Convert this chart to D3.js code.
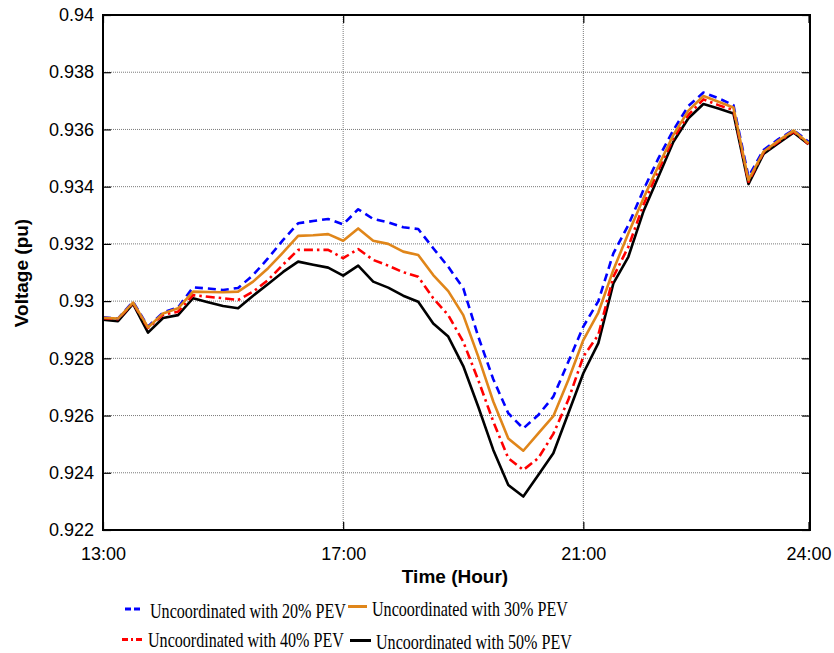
<!DOCTYPE html>
<html>
<head>
<meta charset="utf-8">
<script src="https://cdn.jsdelivr.net/npm/d3@7"></script>
<style>
  html, body { margin: 0; padding: 0; background: #fff; }
  svg { display: block; }
</style>
</head>
<body>
<svg id="chart" width="834" height="653"></svg>
<script>
// ---------------- DATA ----------------
const seriesNames = [
  "Uncoordinated with 20% PEV",
  "Uncoordinated with 30% PEV",
  "Uncoordinated with 40% PEV",
  "Uncoordinated with 50% PEV"
];
const xTickIndex = [0, 16, 32, 47];
const xTickLabels = ["13:00", "17:00", "21:00", "24:00"];
const yTickValues = [0.922, 0.924, 0.926, 0.928, 0.93, 0.932, 0.934, 0.936, 0.938, 0.94];
const yTickLabels = ["0.922", "0.924", "0.926", "0.928", "0.93", "0.932", "0.934", "0.936", "0.938", "0.94"];

const pev20 = [0.92943, 0.92939, 0.92998, 0.92911, 0.92960, 0.92978, 0.93048, 0.93044, 0.93039, 0.93046,
  0.93091, 0.93150, 0.93214, 0.93272, 0.93280, 0.93287, 0.93268, 0.93321, 0.93287, 0.93275,
  0.93258, 0.93252, 0.93185, 0.93120, 0.93045, 0.92876, 0.92727, 0.92608, 0.92555, 0.92602,
  0.92666, 0.92788, 0.92911, 0.93000, 0.93167, 0.93266, 0.93388, 0.93499, 0.93598, 0.93682,
  0.93729, 0.93709, 0.93685, 0.93435, 0.93528, 0.93566, 0.93598, 0.93557];
const pev30 = [0.92942, 0.92939, 0.92995, 0.92908, 0.92957, 0.92975, 0.93033, 0.93032, 0.93031, 0.93033,
  0.93068, 0.93115, 0.93170, 0.93228, 0.93230, 0.93234, 0.93211, 0.93254, 0.93211, 0.93200,
  0.93173, 0.93161, 0.93091, 0.93035, 0.92951, 0.92806, 0.92649, 0.92520, 0.92477, 0.92538,
  0.92598, 0.92724, 0.92864, 0.92960, 0.93109, 0.93237, 0.93359, 0.93472, 0.93581, 0.93666,
  0.93717, 0.93697, 0.93677, 0.93423, 0.93522, 0.93561, 0.93596, 0.93552];
const pev40 = [0.92940, 0.92937, 0.92993, 0.92906, 0.92952, 0.92963, 0.93021, 0.93015, 0.93010, 0.93004,
  0.93033, 0.93074, 0.93128, 0.93179, 0.93179, 0.93179, 0.93150, 0.93182, 0.93144, 0.93124,
  0.93101, 0.93085, 0.93010, 0.92951, 0.92858, 0.92724, 0.92579, 0.92451, 0.92410, 0.92451,
  0.92536, 0.92655, 0.92806, 0.92882, 0.93085, 0.93190, 0.93336, 0.93458, 0.93569, 0.93651,
  0.93705, 0.93685, 0.93668, 0.93417, 0.93519, 0.93557, 0.93592, 0.93549];
const pev50 = [0.92935, 0.92930, 0.92990, 0.92890, 0.92941, 0.92951, 0.93010, 0.92996, 0.92983, 0.92975,
  0.93019, 0.93060, 0.93102, 0.93138, 0.93127, 0.93117, 0.93089, 0.93124, 0.93068, 0.93047,
  0.93019, 0.92998, 0.92922, 0.92876, 0.92773, 0.92631, 0.92480, 0.92357, 0.92317, 0.92392,
  0.92468, 0.92608, 0.92748, 0.92853, 0.93062, 0.93155, 0.93313, 0.93435, 0.93557, 0.93639,
  0.93689, 0.93673, 0.93656, 0.93409, 0.93514, 0.93552, 0.93589, 0.93548];

// ---------------- STYLES ----------------
const styles = [
  { color: "#0000FF", dash: "8,5" },
  { color: "#E0861A", dash: null },
  { color: "#FF0000", dash: "9,4,2.5,4" },
  { color: "#000000", dash: null }
];
const seriesData = [pev20, pev30, pev40, pev50];

// ---------------- LAYOUT ----------------
const svg = d3.select("#chart");
const L = 103, R = 810, T = 15, B = 530;

const x = d3.scaleLinear().domain([0, 47]).range([L, 808.5]);
const y = d3.scaleLinear().domain([0.922, 0.94]).range([B, T]);

svg.append("rect").attr("x", 0).attr("y", 0).attr("width", 834).attr("height", 653).attr("fill", "#fff");

// grid
const grid = svg.append("g");
grid.selectAll("line.h").data(yTickValues.slice(1, -1)).enter().append("line")
  .attr("x1", L).attr("x2", R)
  .attr("y1", d => y(d)).attr("y2", d => y(d))
  .attr("stroke", "#7a7a7a").attr("stroke-width", 1).attr("stroke-dasharray", "1,1");
grid.selectAll("line.v").data(xTickIndex.slice(1, -1)).enter().append("line")
  .attr("y1", T).attr("y2", B)
  .attr("x1", d => x(d)).attr("x2", d => x(d))
  .attr("stroke", "#7a7a7a").attr("stroke-width", 1).attr("stroke-dasharray", "1,1");

// lines
const lineGen = d3.line().x((d, i) => x(i)).y(d => y(d));
const drawOrder = [3, 2, 0, 1];
drawOrder.forEach(k => {
  svg.append("path")
    .datum(seriesData[k])
    .attr("d", lineGen)
    .attr("fill", "none")
    .attr("stroke", styles[k].color)
    .attr("stroke-width", 2.6)
    .attr("stroke-linejoin", "round")
    .attr("stroke-dasharray", styles[k].dash);
});

// axes with inward ticks
const font = "'Liberation Sans', Arial, sans-serif";
const yAxisL = d3.axisLeft(y).tickValues(yTickValues).tickFormat((d, i) => yTickLabels[i]).tickSizeInner(-8).tickSizeOuter(0).tickPadding(14);
const yAxisR = d3.axisRight(y).tickValues(yTickValues).tickFormat("").tickSizeInner(-8).tickSizeOuter(0);
const xAxisB = d3.axisBottom(x).tickValues(xTickIndex).tickFormat((d, i) => xTickLabels[i]).tickSizeInner(-8).tickSizeOuter(0).tickPadding(14);
const xAxisT = d3.axisTop(x).tickValues(xTickIndex).tickFormat("").tickSizeInner(-8).tickSizeOuter(0);

const gL = svg.append("g").attr("transform", `translate(${L},0)`).call(yAxisL);
const gR = svg.append("g").attr("transform", `translate(${R},0)`).call(yAxisR);
const gB = svg.append("g").attr("transform", `translate(0,${B})`).call(xAxisB);
const gT = svg.append("g").attr("transform", `translate(0,${T})`).call(xAxisT);
[gL, gR, gB, gT].forEach(g => {
  g.select(".domain").remove();
  g.selectAll(".tick line").attr("stroke", "#000").attr("stroke-width", 1.2);
  g.selectAll("text").attr("fill", "#000").style("font-family", font).style("font-size", "18px");
});
gL.selectAll("text").attr("dx", "5");
gB.selectAll("text").attr("dy", "0.9em");

// box
svg.append("rect").attr("x", L).attr("y", T).attr("width", R - L).attr("height", B - T)
  .attr("fill", "none").attr("stroke", "#000").attr("stroke-width", 2);

// axis titles
svg.append("text").attr("x", 455).attr("y", 583).attr("text-anchor", "middle")
  .style("font-family", font).style("font-size", "19px").style("font-weight", "bold").text("Time (Hour)");
svg.append("text").attr("transform", "translate(28,273) rotate(-90)").attr("text-anchor", "middle")
  .style("font-family", font).style("font-size", "19px").style("font-weight", "bold").text("Voltage (pu)");

// legend
const legendPos = [
  { x1: 125, x2: 143, ly: 609, tx: 150, ty: 617.5 },
  { x1: 348, x2: 367, ly: 606.5, tx: 372, ty: 615.5 },
  { x1: 122, x2: 143, ly: 639.5, tx: 148, ty: 647 },
  { x1: 350, x2: 371, ly: 640.5, tx: 376, ty: 648.5 }
];
const legDash = ["6,3", null, "6,3,2,3", null];
const legendWidth = 196;
const leg = svg.append("g");
seriesNames.forEach((name, k) => {
  const p = legendPos[k];
  leg.append("line").attr("x1", p.x1).attr("x2", p.x2).attr("y1", p.ly).attr("y2", p.ly)
    .attr("stroke", styles[k].color).attr("stroke-width", 3).attr("stroke-dasharray", legDash[k]);
  const t = leg.append("text").attr("x", 0).attr("y", 0)
    .style("font-family", "'Liberation Serif', 'Times New Roman', serif").style("font-size", "21px")
    .attr("fill", "#000").text(name);
  const natural = t.node().getComputedTextLength();
  const sx = legendWidth / natural;
  t.attr("transform", `translate(${p.tx},${p.ty}) scale(${sx},1)`);
});
</script>
</body>
</html>
